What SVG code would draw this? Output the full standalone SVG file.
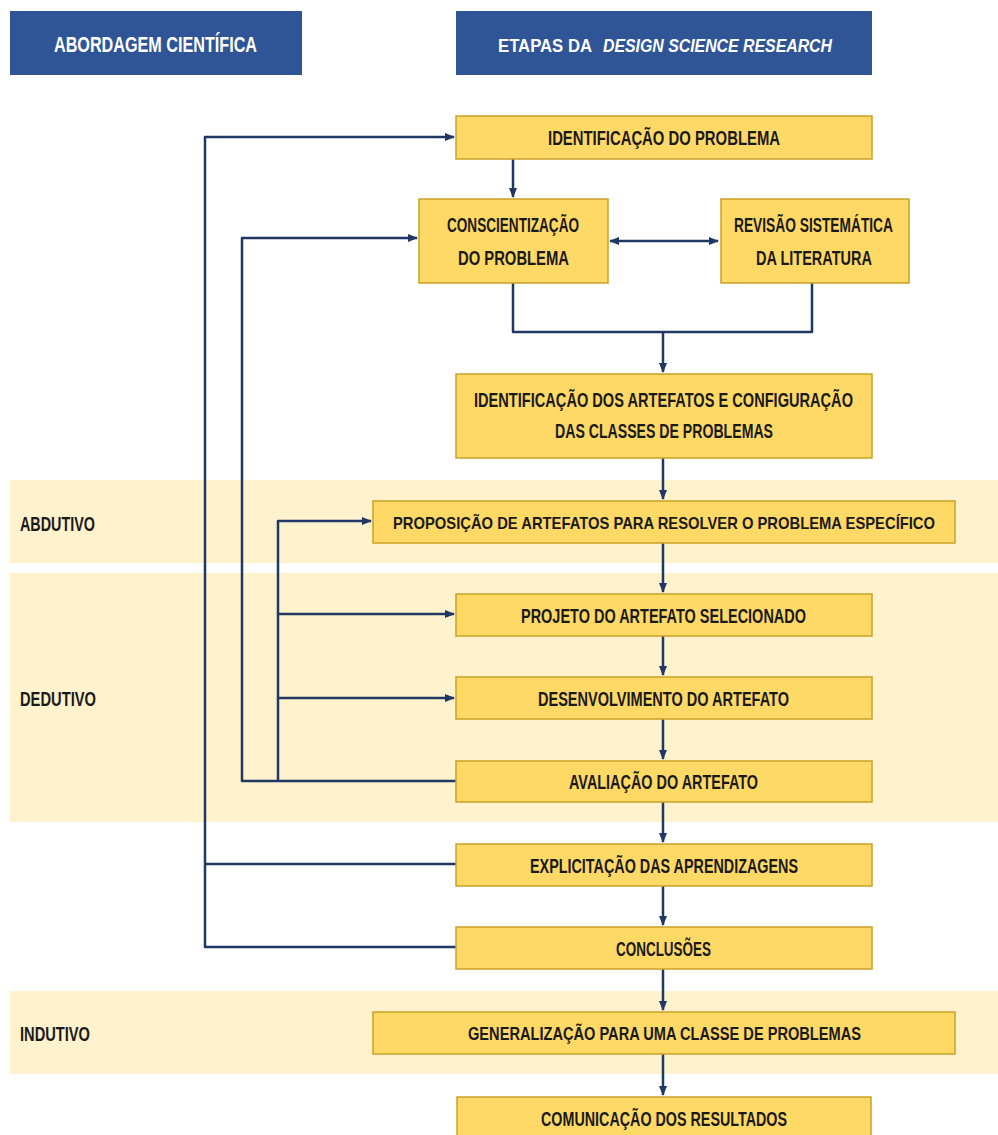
<svg xmlns="http://www.w3.org/2000/svg" width="998" height="1135" viewBox="0 0 998 1135">
<style>
.hdr{fill:#2F5597}
.band{fill:#FFF2CC}
.box{fill:#FFD966;stroke:#C9A227;stroke-width:1.5}
.t{font-family:"Liberation Sans",Arial,sans-serif;font-size:20px;font-weight:bold;fill:#1a1a1a;text-anchor:start}
.ts{font-size:18px}
.tx{font-size:17px}
.ht{font-family:"Liberation Sans",Arial,sans-serif;font-size:22px;font-weight:bold;fill:#ffffff}
.hs{font-size:19px}
.lbl{font-family:"Liberation Sans",Arial,sans-serif;font-size:20px;font-weight:bold;fill:#1a1a1a}
.c{fill:none;stroke:#203864;stroke-width:2.5;stroke-linejoin:round}
</style>
<defs>
<marker id="ah" markerUnits="userSpaceOnUse" markerWidth="10" markerHeight="10" refX="9" refY="5" orient="auto-start-reverse">
<path d="M0,1 L10,5 L0,9 Z" fill="#203864"/>
</marker>
</defs>
<rect width="998" height="1135" fill="#ffffff"/>
<g id="bands">
<rect class="band" x="10" y="480" width="988" height="83"/>
<rect class="band" x="10" y="573" width="988" height="249"/>
<rect class="band" x="10" y="991" width="988" height="83"/>
<text class="lbl" x="20" y="531" textLength="75" lengthAdjust="spacingAndGlyphs">ABDUTIVO</text>
<text class="lbl" x="20" y="706" textLength="76" lengthAdjust="spacingAndGlyphs">DEDUTIVO</text>
<text class="lbl" x="20" y="1041" textLength="70" lengthAdjust="spacingAndGlyphs">INDUTIVO</text>
</g>
<g id="header-left">
<rect class="hdr" x="10" y="11" width="292" height="64"/>
<text class="ht" x="54" y="52" textLength="203" lengthAdjust="spacingAndGlyphs">ABORDAGEM CIENTÍFICA</text>
</g>
<g id="header-right">
<rect class="hdr" x="456" y="11" width="416" height="64"/>
<text class="ht hs" x="498" y="52" textLength="94" lengthAdjust="spacingAndGlyphs">ETAPAS DA</text>
<text class="ht hs" x="603" y="52" textLength="229" lengthAdjust="spacingAndGlyphs" font-style="italic">DESIGN SCIENCE RESEARCH</text>
</g>
<g id="connectors">
<path class="c" d="M456,947 H205 V137 H454" marker-end="url(#ah)"/>
<path class="c" d="M456,864 H205"/>
<path class="c" d="M456,781 H242 V238 H417" marker-end="url(#ah)"/>
<path class="c" d="M278,781 V521 H371" marker-end="url(#ah)"/>
<path class="c" d="M278,614 H454" marker-end="url(#ah)"/>
<path class="c" d="M278,698 H454" marker-end="url(#ah)"/>
<path class="c" d="M513,159 V197" marker-end="url(#ah)"/>
<path class="c" d="M610,241 H718" marker-start="url(#ah)" marker-end="url(#ah)"/>
<path class="c" d="M513,283 V332 H812 V283"/>
<path class="c" d="M663,332 V372" marker-end="url(#ah)"/>
<path class="c" d="M663,458 V499" marker-end="url(#ah)"/>
<path class="c" d="M663,543 V592" marker-end="url(#ah)"/>
<path class="c" d="M663,636 V675" marker-end="url(#ah)"/>
<path class="c" d="M663,719 V759" marker-end="url(#ah)"/>
<path class="c" d="M663,802 V842" marker-end="url(#ah)"/>
<path class="c" d="M663,886 V925" marker-end="url(#ah)"/>
<path class="c" d="M663,969 V1010" marker-end="url(#ah)"/>
<path class="c" d="M663,1054 V1095" marker-end="url(#ah)"/>
</g>
<g id="n1">
<rect class="box" x="456" y="116" width="416" height="43"/>
<text class="t" x="548" y="145" textLength="232" lengthAdjust="spacingAndGlyphs">IDENTIFICAÇÃO DO PROBLEMA</text>
</g>
<g id="n2">
<rect class="box" x="419" y="199" width="189" height="84"/>
<text class="t" x="447" y="232" textLength="132" lengthAdjust="spacingAndGlyphs">CONSCIENTIZAÇÃO</text>
<text class="t" x="458" y="265" textLength="111" lengthAdjust="spacingAndGlyphs">DO PROBLEMA</text>
</g>
<g id="n3">
<rect class="box" x="721" y="199" width="188" height="84"/>
<text class="t" x="734" y="232" textLength="159" lengthAdjust="spacingAndGlyphs">REVISÃO SISTEMÁTICA</text>
<text class="t" x="756" y="265" textLength="116" lengthAdjust="spacingAndGlyphs">DA LITERATURA</text>
</g>
<g id="n4">
<rect class="box" x="456" y="374" width="416" height="84"/>
<text class="t" x="474" y="407" textLength="379" lengthAdjust="spacingAndGlyphs">IDENTIFICAÇÃO DOS ARTEFATOS E CONFIGURAÇÃO</text>
<text class="t" x="555" y="438" textLength="218" lengthAdjust="spacingAndGlyphs">DAS CLASSES DE PROBLEMAS</text>
</g>
<g id="n5">
<rect class="box" x="373" y="501" width="582" height="42"/>
<text class="t tx" x="393" y="529" textLength="542" lengthAdjust="spacingAndGlyphs">PROPOSIÇÃO DE ARTEFATOS PARA RESOLVER O PROBLEMA ESPECÍFICO</text>
</g>
<g id="n6">
<rect class="box" x="456" y="594" width="416" height="42"/>
<text class="t" x="521" y="623" textLength="285" lengthAdjust="spacingAndGlyphs">PROJETO DO ARTEFATO SELECIONADO</text>
</g>
<g id="n7">
<rect class="box" x="456" y="677" width="416" height="42"/>
<text class="t" x="538" y="706" textLength="251" lengthAdjust="spacingAndGlyphs">DESENVOLVIMENTO DO ARTEFATO</text>
</g>
<g id="n8">
<rect class="box" x="456" y="761" width="416" height="41"/>
<text class="t" x="569" y="789" textLength="189" lengthAdjust="spacingAndGlyphs">AVALIAÇÃO DO ARTEFATO</text>
</g>
<g id="n9">
<rect class="box" x="456" y="844" width="416" height="42"/>
<text class="t" x="530" y="873" textLength="268" lengthAdjust="spacingAndGlyphs">EXPLICITAÇÃO DAS APRENDIZAGENS</text>
</g>
<g id="n10">
<rect class="box" x="456" y="927" width="416" height="42"/>
<text class="t" x="616" y="956" textLength="95" lengthAdjust="spacingAndGlyphs">CONCLUSÕES</text>
</g>
<g id="n11">
<rect class="box" x="373" y="1012" width="582" height="42"/>
<text class="t ts" x="468" y="1040" textLength="393" lengthAdjust="spacingAndGlyphs">GENERALIZAÇÃO PARA UMA CLASSE DE PROBLEMAS</text>
</g>
<g id="n12">
<rect class="box" x="457" y="1097" width="414" height="45"/>
<text class="t" x="541" y="1126" textLength="246" lengthAdjust="spacingAndGlyphs">COMUNICAÇÃO DOS RESULTADOS</text>
</g>
</svg>
